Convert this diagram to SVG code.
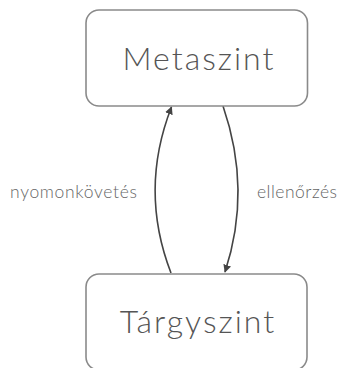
<svg xmlns="http://www.w3.org/2000/svg" width="339" height="368" viewBox="0 0 339 368">
<style>
.box{fill:#fff;stroke:#8a8a8a;stroke-width:1.6}
.title{font-family:Lato,"Open Sans","Liberation Sans",sans-serif;font-weight:300;font-size:32px;letter-spacing:2px;fill:#555;text-anchor:middle}
.lbl{font-family:Lato,"Open Sans","Liberation Sans",sans-serif;font-weight:300;font-size:17.5px;fill:#666;text-anchor:middle}
.edge{fill:none;stroke:#444;stroke-width:1.6}
</style>
<defs>
<marker id="ah" viewBox="0 0 10 10" refX="9" refY="5" markerWidth="8" markerHeight="8" markerUnits="userSpaceOnUse" orient="auto">
<path d="M0,0 L10,5 L0,10 z" fill="#444"/>
</marker>
</defs>
<rect width="339" height="368" fill="#fff"/>
<g id="connectors">
<path class="edge" d="M171,273 Q139,190 171.5,107" marker-end="url(#ah)"/>
<path class="edge" d="M223,106 Q252,190 225,272" marker-end="url(#ah)"/>
<text class="lbl" x="73.5" y="198" textLength="127" lengthAdjust="spacing">nyomonkövetés</text>
<text class="lbl" x="297" y="198" textLength="80" lengthAdjust="spacing">ellenőrzés</text>
</g>
<g id="metaszint">
<rect class="box" x="86" y="10" width="221.5" height="96" rx="13"/>
<text class="title" x="199" y="70">Metaszint</text>
</g>
<g id="targyszint">
<rect class="box" x="86" y="274" width="221" height="96" rx="13"/>
<text class="title" x="198" y="333">Tárgyszint</text>
</g>
</svg>
